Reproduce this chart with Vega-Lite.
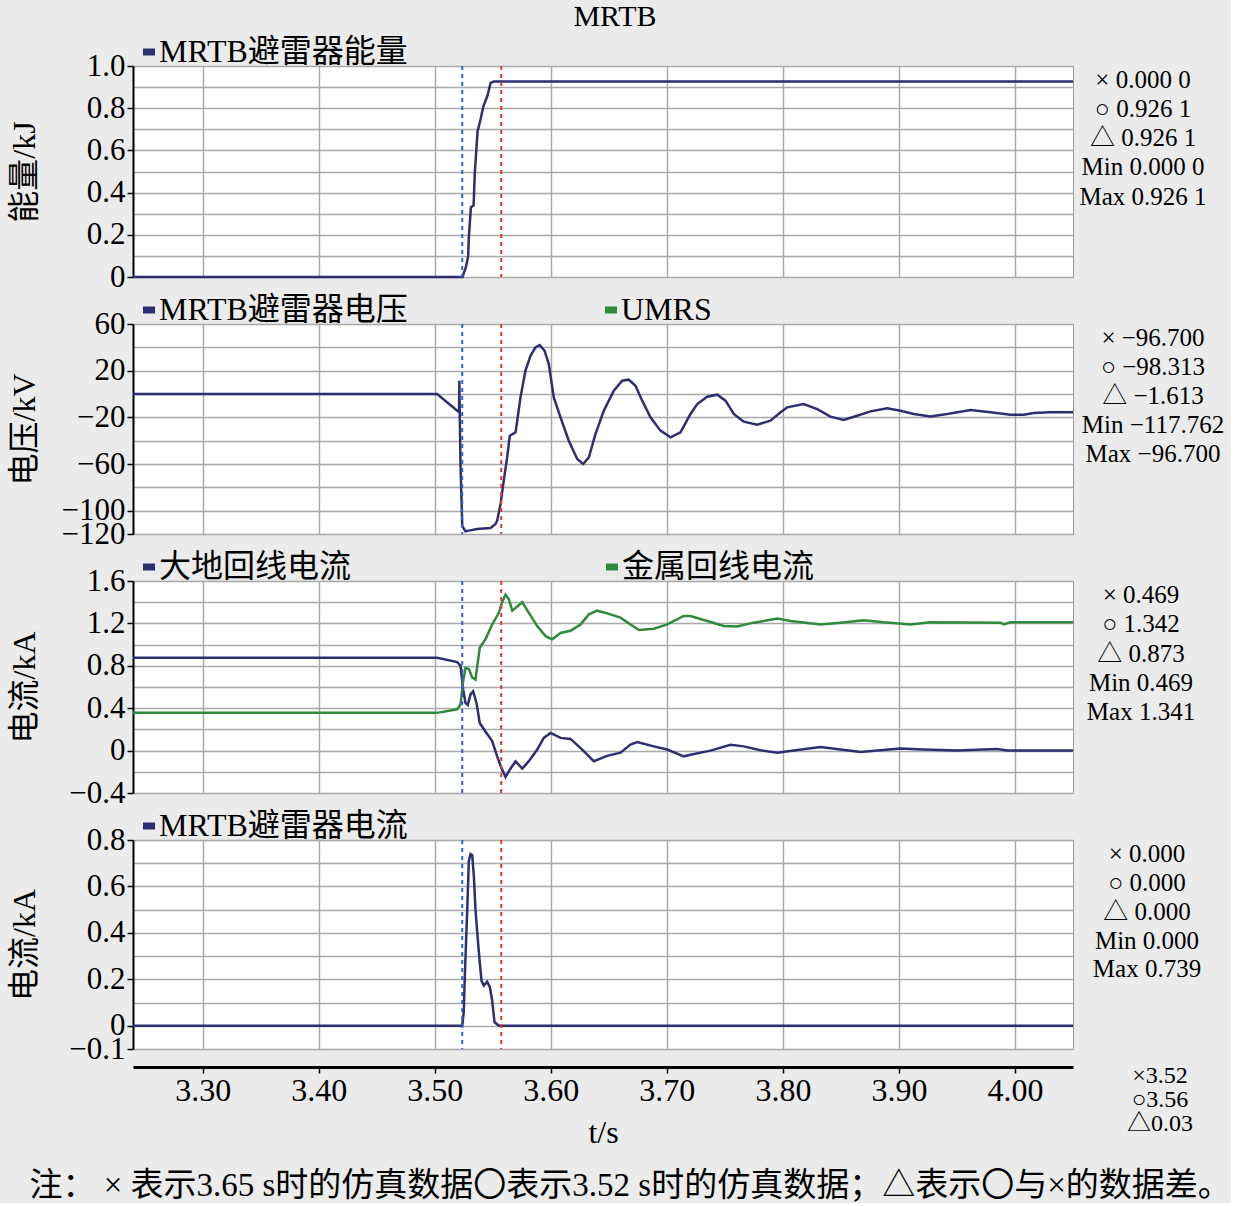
{
  "$schema": "https://vega.github.io/schema/vega-lite/v6.json",
  "background": "#ebebeb",
  "padding": {"left": 7, "top": 1, "right": 0, "bottom": 0},
  "title": {"text": "注： × 表示3.65 s时的仿真数据〇表示3.52 s时的仿真数据；△表示〇与×的数据差。", "orient": "bottom", "anchor": "middle", "fontSize": 33, "fontWeight": "normal", "color": "black", "offset": 21, "dx": 14},
  "spacing": 47,
  "bounds": "flush",
  "resolve": {"scale": {"x": "independent", "y": "independent", "color": "independent"}},
  "datasets": {
    "cursors": [{"t": 3.5237, "c": "x"}, {"t": 3.5573, "c": "o"}],
    "energy": [
      {"t": 3.24, "v": 0, "s": "MRTB避雷器能量"}, {"t": 3.524, "v": 0, "s": "MRTB避雷器能量"}, {"t": 3.527, "v": 0.05, "s": "MRTB避雷器能量"},
      {"t": 3.5288, "v": 0.1, "s": "MRTB避雷器能量"}, {"t": 3.5294, "v": 0.19, "s": "MRTB避雷器能量"}, {"t": 3.5312, "v": 0.33, "s": "MRTB避雷器能量"},
      {"t": 3.5335, "v": 0.34, "s": "MRTB避雷器能量"}, {"t": 3.5345, "v": 0.49, "s": "MRTB避雷器能量"}, {"t": 3.5369, "v": 0.69, "s": "MRTB避雷器能量"},
      {"t": 3.5396, "v": 0.75, "s": "MRTB避雷器能量"}, {"t": 3.542, "v": 0.81, "s": "MRTB避雷器能量"}, {"t": 3.5455, "v": 0.86, "s": "MRTB避雷器能量"},
      {"t": 3.5481, "v": 0.92, "s": "MRTB避雷器能量"}, {"t": 3.5509, "v": 0.926, "s": "MRTB避雷器能量"}, {"t": 4.05, "v": 0.926, "s": "MRTB避雷器能量"}
    ],
    "voltage": [
      {"t": 3.24, "v": 0}, {"t": 3.5021, "v": 0}, {"t": 3.5194, "v": -14.3}, {"t": 3.521, "v": -15.5}, {"t": 3.5212, "v": 11.4},
      {"t": 3.5216, "v": -20}, {"t": 3.5222, "v": -60}, {"t": 3.5237, "v": -113}, {"t": 3.5265, "v": -117.7}, {"t": 3.5294, "v": -117.1},
      {"t": 3.5366, "v": -115.7}, {"t": 3.5481, "v": -114.8}, {"t": 3.5524, "v": -111.4}, {"t": 3.5538, "v": -108.6}, {"t": 3.5567, "v": -94.3},
      {"t": 3.5595, "v": -74.3}, {"t": 3.5624, "v": -54.3}, {"t": 3.5647, "v": -35.7}, {"t": 3.5696, "v": -32.9}, {"t": 3.5711, "v": -22.9},
      {"t": 3.5739, "v": -2.9}, {"t": 3.5782, "v": 20}, {"t": 3.5825, "v": 32.8}, {"t": 3.5868, "v": 39.9}, {"t": 3.5905, "v": 42},
      {"t": 3.5946, "v": 37.1}, {"t": 3.5983, "v": 25.7}, {"t": 3.6026, "v": -2.9}, {"t": 3.6084, "v": -20}, {"t": 3.6155, "v": -40},
      {"t": 3.6228, "v": -55.7}, {"t": 3.6279, "v": -60}, {"t": 3.6328, "v": -54.3}, {"t": 3.6385, "v": -34.3}, {"t": 3.6457, "v": -14.3},
      {"t": 3.6543, "v": 2.8}, {"t": 3.6615, "v": 11.4}, {"t": 3.6672, "v": 12.3}, {"t": 3.673, "v": 7.1}, {"t": 3.6788, "v": -5.7},
      {"t": 3.6859, "v": -20}, {"t": 3.6945, "v": -31.4}, {"t": 3.7032, "v": -37.2}, {"t": 3.7118, "v": -32.9}, {"t": 3.7204, "v": -17.1},
      {"t": 3.7262, "v": -8.6}, {"t": 3.7348, "v": -2.3}, {"t": 3.7434, "v": -0.6}, {"t": 3.7506, "v": -5.7}, {"t": 3.7577, "v": -17.1},
      {"t": 3.7663, "v": -23.7}, {"t": 3.7779, "v": -26.3}, {"t": 3.7893, "v": -22.9}, {"t": 3.798, "v": -15.7}, {"t": 3.8037, "v": -11.4},
      {"t": 3.818, "v": -8.6}, {"t": 3.8296, "v": -12.9}, {"t": 3.841, "v": -19.4}, {"t": 3.8525, "v": -22.3}, {"t": 3.864, "v": -18.6},
      {"t": 3.8755, "v": -14.9}, {"t": 3.8899, "v": -12.3}, {"t": 3.9014, "v": -14.3}, {"t": 3.9128, "v": -17.1}, {"t": 3.9272, "v": -19.2},
      {"t": 3.9416, "v": -17.1}, {"t": 3.9617, "v": -13.7}, {"t": 3.9789, "v": -15.7}, {"t": 3.9961, "v": -17.7}, {"t": 4.0076, "v": -17.7},
      {"t": 4.0162, "v": -16.3}, {"t": 4.0306, "v": -15.7}, {"t": 4.05, "v": -15.7}
    ],
    "current": [
      {"t": 3.24, "v": 0.876, "s": "大地回线电流"}, {"t": 3.5021, "v": 0.876, "s": "大地回线电流"}, {"t": 3.5194, "v": 0.835, "s": "大地回线电流"},
      {"t": 3.5222, "v": 0.8, "s": "大地回线电流"}, {"t": 3.5245, "v": 0.577, "s": "大地回线电流"}, {"t": 3.5265, "v": 0.45, "s": "大地回线电流"},
      {"t": 3.5285, "v": 0.43, "s": "大地回线电流"}, {"t": 3.5308, "v": 0.53, "s": "大地回线电流"}, {"t": 3.5331, "v": 0.56, "s": "大地回线电流"},
      {"t": 3.536, "v": 0.45, "s": "大地回线电流"}, {"t": 3.5388, "v": 0.26, "s": "大地回线电流"}, {"t": 3.5437, "v": 0.18, "s": "大地回线电流"},
      {"t": 3.5495, "v": 0.09, "s": "大地回线电流"}, {"t": 3.5538, "v": -0.054, "s": "大地回线电流"}, {"t": 3.5573, "v": -0.16, "s": "大地回线电流"},
      {"t": 3.561, "v": -0.25, "s": "大地回线电流"}, {"t": 3.5647, "v": -0.18, "s": "大地回线电流"}, {"t": 3.5696, "v": -0.1, "s": "大地回线电流"},
      {"t": 3.5754, "v": -0.17, "s": "大地回线电流"}, {"t": 3.5811, "v": -0.1, "s": "大地回线电流"}, {"t": 3.5883, "v": 0.01, "s": "大地回线电流"},
      {"t": 3.594, "v": 0.12, "s": "大地回线电流"}, {"t": 3.5998, "v": 0.167, "s": "大地回线电流"}, {"t": 3.6084, "v": 0.12, "s": "大地回线电流"},
      {"t": 3.617, "v": 0.11, "s": "大地回线电流"}, {"t": 3.6271, "v": 0.01, "s": "大地回线电流"}, {"t": 3.6371, "v": -0.1, "s": "大地回线电流"},
      {"t": 3.6486, "v": -0.05, "s": "大地回线电流"}, {"t": 3.6601, "v": -0.02, "s": "大地回线电流"}, {"t": 3.6687, "v": 0.057, "s": "大地回线电流"},
      {"t": 3.6745, "v": 0.08, "s": "大地回线电流"}, {"t": 3.6888, "v": 0.04, "s": "大地回线电流"}, {"t": 3.7003, "v": 0.01, "s": "大地回线电流"},
      {"t": 3.7146, "v": -0.054, "s": "大地回线电流"}, {"t": 3.7204, "v": -0.04, "s": "大地回线电流"}, {"t": 3.7376, "v": 0.0, "s": "大地回线电流"},
      {"t": 3.7549, "v": 0.054, "s": "大地回线电流"}, {"t": 3.7663, "v": 0.04, "s": "大地回线电流"}, {"t": 3.7807, "v": 0.003, "s": "大地回线电流"},
      {"t": 3.7951, "v": -0.02, "s": "大地回线电流"}, {"t": 3.8094, "v": 0.0, "s": "大地回线电流"}, {"t": 3.8324, "v": 0.035, "s": "大地回线电流"},
      {"t": 3.8497, "v": 0.01, "s": "大地回线电流"}, {"t": 3.8669, "v": -0.012, "s": "大地回线电流"}, {"t": 3.8813, "v": 0.0, "s": "大地回线电流"},
      {"t": 3.9014, "v": 0.02, "s": "大地回线电流"}, {"t": 3.9214, "v": 0.01, "s": "大地回线电流"}, {"t": 3.9502, "v": 0.0, "s": "大地回线电流"},
      {"t": 3.9847, "v": 0.015, "s": "大地回线电流"}, {"t": 3.9933, "v": 0.0, "s": "大地回线电流"}, {"t": 4.05, "v": 0.0, "s": "大地回线电流"},
      {"t": 3.24, "v": 0.356, "s": "金属回线电流"}, {"t": 3.5021, "v": 0.356, "s": "金属回线电流"}, {"t": 3.5194, "v": 0.39, "s": "金属回线电流"},
      {"t": 3.5222, "v": 0.435, "s": "金属回线电流"}, {"t": 3.5245, "v": 0.655, "s": "金属回线电流"}, {"t": 3.5265, "v": 0.78, "s": "金属回线电流"},
      {"t": 3.5294, "v": 0.77, "s": "金属回线电流"}, {"t": 3.5323, "v": 0.69, "s": "金属回线电流"}, {"t": 3.5351, "v": 0.67, "s": "金属回线电流"},
      {"t": 3.5388, "v": 0.97, "s": "金属回线电流"}, {"t": 3.5437, "v": 1.05, "s": "金属回线电流"}, {"t": 3.5495, "v": 1.19, "s": "金属回线电流"},
      {"t": 3.5552, "v": 1.3, "s": "金属回线电流"}, {"t": 3.5581, "v": 1.4, "s": "金属回线电流"}, {"t": 3.561, "v": 1.47, "s": "金属回线电流"},
      {"t": 3.5638, "v": 1.43, "s": "金属回线电流"}, {"t": 3.5668, "v": 1.32, "s": "金属回线电流"}, {"t": 3.5711, "v": 1.36, "s": "金属回线电流"},
      {"t": 3.5754, "v": 1.4, "s": "金属回线电流"}, {"t": 3.5811, "v": 1.3, "s": "金属回线电流"}, {"t": 3.5883, "v": 1.175, "s": "金属回线电流"},
      {"t": 3.5955, "v": 1.08, "s": "金属回线电流"}, {"t": 3.6012, "v": 1.05, "s": "金属回线电流"}, {"t": 3.6084, "v": 1.11, "s": "金属回线电流"},
      {"t": 3.617, "v": 1.13, "s": "金属回线电流"}, {"t": 3.6256, "v": 1.19, "s": "金属回线电流"}, {"t": 3.6328, "v": 1.285, "s": "金属回线电流"},
      {"t": 3.64, "v": 1.32, "s": "金属回线电流"}, {"t": 3.6486, "v": 1.295, "s": "金属回线电流"}, {"t": 3.6601, "v": 1.254, "s": "金属回线电流"},
      {"t": 3.6687, "v": 1.19, "s": "金属回线电流"}, {"t": 3.6759, "v": 1.137, "s": "金属回线电流"}, {"t": 3.6888, "v": 1.15, "s": "金属回线电流"},
      {"t": 3.7003, "v": 1.19, "s": "金属回线电流"}, {"t": 3.7146, "v": 1.27, "s": "金属回线电流"}, {"t": 3.7204, "v": 1.27, "s": "金属回线电流"},
      {"t": 3.7348, "v": 1.222, "s": "金属回线电流"}, {"t": 3.7491, "v": 1.175, "s": "金属回线电流"}, {"t": 3.7606, "v": 1.17, "s": "金属回线电流"},
      {"t": 3.7749, "v": 1.207, "s": "金属回线电流"}, {"t": 3.7951, "v": 1.245, "s": "金属回线电流"}, {"t": 3.8066, "v": 1.222, "s": "金属回线电流"},
      {"t": 3.8324, "v": 1.19, "s": "金属回线电流"}, {"t": 3.8497, "v": 1.207, "s": "金属回线电流"}, {"t": 3.8697, "v": 1.23, "s": "金属回线电流"},
      {"t": 3.887, "v": 1.21, "s": "金属回线电流"}, {"t": 3.91, "v": 1.19, "s": "金属回线电流"}, {"t": 3.9272, "v": 1.21, "s": "金属回线电流"},
      {"t": 3.9875, "v": 1.207, "s": "金属回线电流"}, {"t": 3.9904, "v": 1.19, "s": "金属回线电流"}, {"t": 3.9961, "v": 1.21, "s": "金属回线电流"},
      {"t": 4.05, "v": 1.21, "s": "金属回线电流"}
    ],
    "arrester": [
      {"t": 3.24, "v": 0, "s": "MRTB避雷器电流"}, {"t": 3.5237, "v": 0, "s": "MRTB避雷器电流"}, {"t": 3.525, "v": 0.059, "s": "MRTB避雷器电流"},
      {"t": 3.5259, "v": 0.21, "s": "MRTB避雷器电流"}, {"t": 3.528, "v": 0.5, "s": "MRTB避雷器电流"}, {"t": 3.5294, "v": 0.71, "s": "MRTB避雷器电流"},
      {"t": 3.5308, "v": 0.739, "s": "MRTB避雷器电流"}, {"t": 3.5323, "v": 0.735, "s": "MRTB避雷器电流"}, {"t": 3.5337, "v": 0.645, "s": "MRTB避雷器电流"},
      {"t": 3.5351, "v": 0.5, "s": "MRTB避雷器电流"}, {"t": 3.5371, "v": 0.373, "s": "MRTB避雷器电流"}, {"t": 3.5388, "v": 0.273, "s": "MRTB避雷器电流"},
      {"t": 3.5403, "v": 0.194, "s": "MRTB避雷器电流"}, {"t": 3.5423, "v": 0.173, "s": "MRTB避雷器电流"}, {"t": 3.5452, "v": 0.19, "s": "MRTB避雷器电流"},
      {"t": 3.5475, "v": 0.166, "s": "MRTB避雷器电流"}, {"t": 3.5495, "v": 0.109, "s": "MRTB避雷器电流"}, {"t": 3.5515, "v": 0.016, "s": "MRTB避雷器电流"},
      {"t": 3.5552, "v": 0, "s": "MRTB避雷器电流"}, {"t": 4.05, "v": 0, "s": "MRTB避雷器电流"}
    ]
  },
  "vconcat": [
    {
      "title": {"text": "MRTB", "fontSize": 30, "fontWeight": "normal", "color": "black", "anchor": "middle", "offset": 4, "dx": 12},
      "width": 940, "height": 211,
      "resolve": {"scale": {"y": "independent"}},
      "layer": [
        {
          "data": {"name": "energy"},
          "mark": {"type": "line", "strokeWidth": 2.5},
          "encoding": {
            "x": {"field": "t", "type": "quantitative", "scale": {"domain": [3.24, 4.05], "nice": false, "zero": false},
                  "axis": {"values": [3.3, 3.4, 3.5, 3.6, 3.7, 3.8, 3.9, 4.0], "labels": false, "ticks": false, "domain": false, "title": null}},
            "y": {"field": "v", "type": "quantitative", "scale": {"domain": [0, 1], "nice": false, "zero": false},
                  "axis": {"title": "能量/kJ", "values": [0, 0.1, 0.2, 0.3, 0.4, 0.5, 0.6, 0.7, 0.8, 0.9, 1.0],
                           "labelExpr": "round(datum.value*10) % 2 == 0 ? (datum.value == 0 ? '0' : format(datum.value, '.1f')) : ''",
                           "tickOpacity": {"condition": {"test": "round(datum.value*10) % 2 == 0", "value": 1}, "value": 0}}},
            "color": {"field": "s", "type": "nominal", "scale": {"domain": ["MRTB避雷器能量"], "range": ["#2e2f70"]}, "legend": {}}
          }
        },
        {
          "data": {"name": "cursors"},
          "mark": {"type": "rule", "strokeDash": [4, 4], "strokeWidth": 2},
          "encoding": {"x": {"field": "t", "type": "quantitative"}, "color": {"condition": {"test": "datum.c == 'x'", "value": "#3a5bc8"}, "value": "#e23a30"}}
        },
        {
          "data": {"values": [{"k": 0, "s": "× 0.000 0"}, {"k": 1, "s": "○ 0.926 1"}, {"k": 2, "s": "△ 0.926 1"}, {"k": 3, "s": "Min 0.000 0"}, {"k": 4, "s": "Max 0.926 1"}]},
          "mark": {"type": "text", "align": "center", "baseline": "middle", "dx": 70, "fontSize": 25},
          "encoding": {"x": {"value": "width"}, "y": {"field": "k", "type": "quantitative", "scale": {"domain": [-0.483, 6.759], "reverse": true, "nice": false, "zero": false}, "axis": null}, "text": {"field": "s"}}
        }
      ]
    },
    {
      "width": 940, "height": 210,
      "resolve": {"scale": {"y": "independent"}},
      "layer": [
        {
          "data": {"name": "voltage"},
          "transform": [{"calculate": "'MRTB避雷器电压'", "as": "s"}],
          "mark": {"type": "line", "strokeWidth": 2.5},
          "encoding": {
            "x": {"field": "t", "type": "quantitative", "scale": {"domain": [3.24, 4.05], "nice": false, "zero": false},
                  "axis": {"values": [3.3, 3.4, 3.5, 3.6, 3.7, 3.8, 3.9, 4.0], "labels": false, "ticks": false, "domain": false, "title": null}},
            "y": {"field": "v", "type": "quantitative", "scale": {"domain": [-120, 60], "nice": false, "zero": false},
                  "axis": {"title": "电压/kV", "values": [-120, -100, -80, -60, -40, -20, 0, 20, 40, 60],
                           "labelExpr": "(datum.value == -120 || (datum.value + 20) % 40 == 0) ? format(datum.value, 'd') : ''",
                           "tickOpacity": {"condition": {"test": "datum.value == -120 || (datum.value + 20) % 40 == 0", "value": 1}, "value": 0}}},
            "color": {"field": "s", "type": "nominal", "scale": {"domain": ["MRTB避雷器电压", "UMRS"], "range": ["#2e2f70", "#2f8a3c"]}, "legend": {"columnPadding": 183}}
          }
        },
        {
          "data": {"name": "cursors"},
          "mark": {"type": "rule", "strokeDash": [4, 4], "strokeWidth": 2},
          "encoding": {"x": {"field": "t", "type": "quantitative"}, "color": {"condition": {"test": "datum.c == 'x'", "value": "#3a5bc8"}, "value": "#e23a30"}}
        },
        {
          "data": {"values": [{"k": 0, "s": "× −96.700"}, {"k": 1, "s": "○ −98.313"}, {"k": 2, "s": "△ −1.613"}, {"k": 3, "s": "Min −117.762"}, {"k": 4, "s": "Max −96.700"}]},
          "mark": {"type": "text", "align": "center", "baseline": "middle", "dx": 80, "fontSize": 25},
          "encoding": {"x": {"value": "width"}, "y": {"field": "k", "type": "quantitative", "scale": {"domain": [-0.483, 6.759], "reverse": true, "nice": false, "zero": false}, "axis": null}, "text": {"field": "s"}}
        }
      ]
    },
    {
      "width": 940, "height": 212,
      "resolve": {"scale": {"y": "independent"}},
      "layer": [
        {
          "data": {"name": "current"},
          "mark": {"type": "line", "strokeWidth": 2.5},
          "encoding": {
            "x": {"field": "t", "type": "quantitative", "scale": {"domain": [3.24, 4.05], "nice": false, "zero": false},
                  "axis": {"values": [3.3, 3.4, 3.5, 3.6, 3.7, 3.8, 3.9, 4.0], "labels": false, "ticks": false, "domain": false, "title": null}},
            "y": {"field": "v", "type": "quantitative", "scale": {"domain": [-0.4, 1.6], "nice": false, "zero": false},
                  "axis": {"title": "电流/kA", "values": [-0.4, -0.2, 0, 0.2, 0.4, 0.6, 0.8, 1.0, 1.2, 1.4, 1.6],
                           "labelExpr": "round(datum.value*5) % 2 == 0 ? (datum.value == 0 ? '0' : format(datum.value, '.1f')) : ''",
                           "tickOpacity": {"condition": {"test": "round(datum.value*5) % 2 == 0", "value": 1}, "value": 0}}},
            "color": {"field": "s", "type": "nominal", "scale": {"domain": ["大地回线电流", "金属回线电流"], "range": ["#2e2f70", "#2f8a3c"]}, "legend": {"columnPadding": 240}}
          }
        },
        {
          "data": {"name": "cursors"},
          "mark": {"type": "rule", "strokeDash": [4, 4], "strokeWidth": 2},
          "encoding": {"x": {"field": "t", "type": "quantitative"}, "color": {"condition": {"test": "datum.c == 'x'", "value": "#3a5bc8"}, "value": "#e23a30"}}
        },
        {
          "data": {"values": [{"k": 0, "s": "× 0.469"}, {"k": 1, "s": "○ 1.342"}, {"k": 2, "s": "△ 0.873"}, {"k": 3, "s": "Min 0.469"}, {"k": 4, "s": "Max 1.341"}]},
          "mark": {"type": "text", "align": "center", "baseline": "middle", "dx": 68, "fontSize": 25},
          "encoding": {"x": {"value": "width"}, "y": {"field": "k", "type": "quantitative", "scale": {"domain": [-0.483, 6.759], "reverse": true, "nice": false, "zero": false}, "axis": null}, "text": {"field": "s"}}
        }
      ]
    },
    {
      "width": 940, "height": 209,
      "resolve": {"scale": {"y": "independent"}},
      "layer": [
        {
          "data": {"name": "arrester"},
          "mark": {"type": "line", "strokeWidth": 2.5},
          "encoding": {
            "x": {"field": "t", "type": "quantitative", "scale": {"domain": [3.24, 4.05], "nice": false, "zero": false},
                  "axis": {"values": [3.3, 3.4, 3.5, 3.6, 3.7, 3.8, 3.9, 4.0], "format": ".2f", "title": "t/s", "offset": 18,
                           "domain": true, "domainColor": "black", "domainWidth": 3, "ticks": true, "tickColor": "black", "tickSize": 6, "tickWidth": 1.5,
                           "labelPadding": 2, "titlePadding": 11, "labelFlush": false, "labelOverlap": false, "labelFontSize": 32}},
            "y": {"field": "v", "type": "quantitative", "scale": {"domain": [-0.1, 0.8], "nice": false, "zero": false},
                  "axis": {"title": "电流/kA", "values": [-0.1, 0, 0.1, 0.2, 0.3, 0.4, 0.5, 0.6, 0.7, 0.8],
                           "labelExpr": "(datum.value < 0 || round(datum.value*10) % 2 == 0) ? (datum.value == 0 ? '0' : format(datum.value, '.1f')) : ''",
                           "tickOpacity": {"condition": {"test": "datum.value < 0 || round(datum.value*10) % 2 == 0", "value": 1}, "value": 0}}},
            "color": {"field": "s", "type": "nominal", "scale": {"domain": ["MRTB避雷器电流"], "range": ["#2e2f70"]}, "legend": {}}
          }
        },
        {
          "data": {"name": "cursors"},
          "mark": {"type": "rule", "strokeDash": [4, 4], "strokeWidth": 2},
          "encoding": {"x": {"field": "t", "type": "quantitative"}, "color": {"condition": {"test": "datum.c == 'x'", "value": "#3a5bc8"}, "value": "#e23a30"}}
        },
        {
          "data": {"values": [{"k": 0, "s": "× 0.000"}, {"k": 1, "s": "○ 0.000"}, {"k": 2, "s": "△ 0.000"}, {"k": 3, "s": "Min 0.000"}, {"k": 4, "s": "Max 0.739"}]},
          "mark": {"type": "text", "align": "center", "baseline": "middle", "dx": 74, "fontSize": 25},
          "encoding": {"x": {"value": "width"}, "y": {"field": "k", "type": "quantitative", "scale": {"domain": [-0.483, 6.759], "reverse": true, "nice": false, "zero": false}, "axis": null}, "text": {"field": "s"}}
        },
        {
          "data": {"values": [{"k": 0, "s": "×3.52"}, {"k": 1, "s": "○3.56"}, {"k": 2, "s": "△0.03"}]},
          "mark": {"type": "text", "align": "center", "baseline": "middle", "dx": 87, "fontSize": 24},
          "encoding": {"x": {"value": "width"}, "y": {"field": "k", "type": "quantitative", "scale": {"domain": [-9.875, -1.125], "reverse": true, "nice": false, "zero": false}, "axis": null}, "text": {"field": "s"}}
        }
      ]
    }
  ],
  "config": {
    "font": "Liberation Serif, Noto Sans CJK SC",
    "view": {"fill": "white", "stroke": "#9c9c9c", "strokeWidth": 1},
    "text": {"color": "black", "font": "Liberation Serif, Noto Sans CJK SC"},
    "axis": {"labelColor": "black", "titleColor": "black", "labelFontSize": 31, "titleFontSize": 32, "titleFontWeight": "normal",
             "gridColor": "#a9a9a9", "gridWidth": 1.5, "gridOpacity": 1, "labelOverlap": false, "labelFlush": false},
    "axisY": {"domainColor": "black", "domainWidth": 2, "tickColor": "black", "tickSize": 6, "tickWidth": 1.5, "labelPadding": 2,
              "minExtent": 82, "maxExtent": 82, "titlePadding": 10},
    "legend": {"orient": "top", "direction": "horizontal", "title": null, "labelFontSize": 32, "labelColor": "black", "labelLimit": 600,
               "symbolType": "stroke", "symbolStrokeWidth": 7, "symbolSize": 144, "padding": 0, "offset": -2, "labelOffset": -6}
  }
}
